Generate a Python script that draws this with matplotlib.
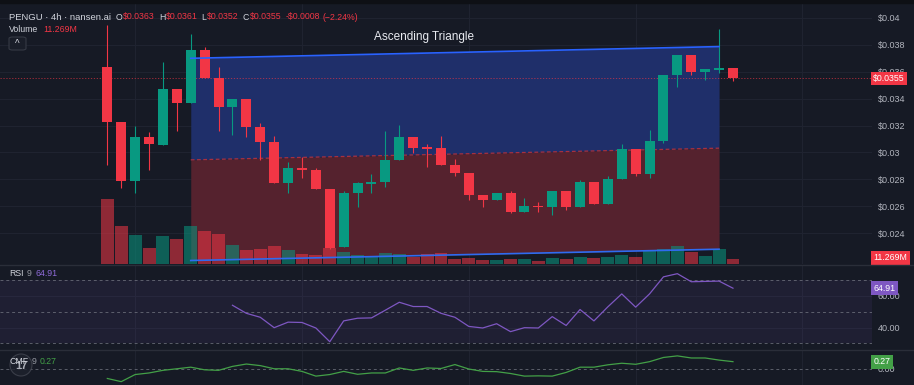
import numpy as np
import matplotlib
matplotlib.use("Agg")
import matplotlib.pyplot as plt
from matplotlib.patches import FancyBboxPatch, Ellipse, Rectangle
from matplotlib.lines import Line2D
from matplotlib.transforms import blended_transform_factory

plt.rcParams["font.family"] = ["Liberation Sans", "DejaVu Sans"]

# 4h candles, PENGU
opens = [0.03633, 0.03225, 0.02791, 0.03118, 0.03059, 0.03472, 0.03371, 0.03764, 0.03552, 0.03341,
         0.03400, 0.03188, 0.03076, 0.02772, 0.02888, 0.02871, 0.02729, 0.02301, 0.02702, 0.02767,
         0.02784, 0.02945, 0.03118, 0.03036, 0.03032, 0.02906, 0.02851, 0.02685, 0.02648, 0.02702,
         0.02561, 0.02605, 0.02594, 0.02715, 0.02594, 0.02779, 0.02620, 0.02806, 0.03029, 0.02843,
         0.03088, 0.03576, 0.03725, 0.03601, 0.03614, 0.03631]
highs = [0.03948, 0.03225, 0.03200, 0.03151, 0.03675, 0.03472, 0.03881, 0.03782, 0.03638, 0.03400,
         0.03400, 0.03218, 0.03126, 0.02932, 0.02969, 0.02883, 0.02729, 0.02712, 0.02784, 0.02841,
         0.03160, 0.03205, 0.03118, 0.03064, 0.03123, 0.02950, 0.02851, 0.02685, 0.02702, 0.02715,
         0.02665, 0.02635, 0.02715, 0.02715, 0.02796, 0.02779, 0.02828, 0.03064, 0.03029, 0.03168,
         0.03576, 0.03725, 0.03725, 0.03619, 0.03916, 0.03631]
lows = [0.02907, 0.02735, 0.02702, 0.02871, 0.03059, 0.03160, 0.03371, 0.03552, 0.03163, 0.03131,
        0.03114, 0.02945, 0.02772, 0.02702, 0.02809, 0.02729, 0.02280, 0.02301, 0.02598, 0.02702,
        0.02742, 0.02945, 0.02995, 0.02895, 0.02906, 0.02828, 0.02648, 0.02598, 0.02648, 0.02553,
        0.02561, 0.02561, 0.02536, 0.02573, 0.02594, 0.02620, 0.02620, 0.02806, 0.02826, 0.02813,
        0.03069, 0.03490, 0.03576, 0.03539, 0.03589, 0.03530]
closes = [0.03225, 0.02791, 0.03118, 0.03062, 0.03472, 0.03371, 0.03764, 0.03552, 0.03341, 0.03400,
          0.03188, 0.03076, 0.02772, 0.02886, 0.02871, 0.02729, 0.02290, 0.02702, 0.02772, 0.02784,
          0.02945, 0.03118, 0.03032, 0.03028, 0.02906, 0.02851, 0.02685, 0.02648, 0.02702, 0.02561,
          0.02605, 0.02594, 0.02715, 0.02594, 0.02779, 0.02620, 0.02806, 0.03029, 0.02843, 0.03088,
          0.03576, 0.03725, 0.03601, 0.03619, 0.03631, 0.03550]
volumes = [156, 92, 70, 38, 68, 59, 92, 78, 72, 46, 34, 36, 43, 34, 25, 21, 39, 29, 22, 16,
           26, 24, 16, 24, 26, 13, 14, 10, 10, 11, 11, 8, 15, 11, 17, 14, 17, 22, 17, 30,
           37, 42, 29, 18, 37, 11.269]

rsi_start = 9
rsi = [54.1, 49.0, 46.5, 39.9, 43.4, 43.2, 39.7, 31.0, 44.2, 45.9, 46.1, 51.0, 56.0, 53.3, 53.3,
       49.0, 46.5, 40.7, 39.7, 42.4, 37.4, 39.9, 39.7, 46.9, 41.3, 51.4, 44.2, 53.1, 61.3, 52.9,
       61.3, 72.1, 74.1, 69.0, 69.2, 69.4, 64.91]
cmf = [-0.37, -0.49, -0.22, -0.16, -0.06, 0.0, 0.06, -0.04, -0.06, 0.09, 0.18, 0.12, 0.0, 0.0,
       -0.10, -0.28, -0.22, -0.10, -0.21, -0.16, -0.16, 0.03, -0.06, 0.03, 0.01, 0.16, -0.01, -0.10,
       -0.11, -0.18, -0.28, -0.27, -0.28, -0.14, 0.06, 0.06, 0.15, 0.21, 0.17, 0.27, 0.43, 0.49,
       0.41, 0.41, 0.33, 0.27]

# ascending triangle drawing
tri_x = [6, 44]
tri_top = [0.03700, 0.03787]
tri_mid = [0.02945, 0.03032]
tri_bot = [0.02197, 0.02281]

price_ticks = [0.024, 0.026, 0.028, 0.030, 0.032, 0.034, 0.036, 0.038, 0.040]
price_labels = ["$0.024", "$0.026", "$0.028", "$0.03", "$0.032", "$0.034", "$0.036", "$0.038", "$0.04"]
grid_x = [2, 14, 26, 38, 50]
last_price = 0.0355

BG = "#161A25"
GRID = "#1F2330"
RED = "#F23645"
GREEN = "#089981"
TXT = "#D1D4DC"
AXTXT = "#B2B5BE"
PURPLE = "#7E57C2"
CMFG = "#43A047"

W, H = 914, 385
XL = (-7.72, 55.0)
YL = (0.02171, 0.04111)


def rect(x0, y0, x1, y1):
    return [x0 / W, 1 - y1 / H, (x1 - x0) / W, (y1 - y0) / H]


def base(a, ylim):
    a.set_facecolor(BG)
    a.set_xlim(XL)
    a.set_ylim(ylim)
    for s in a.spines.values():
        s.set_visible(False)
    a.yaxis.tick_right()
    a.set_xticks(grid_x)
    a.tick_params(axis="x", length=0, labelbottom=False)
    a.tick_params(axis="y", length=0, pad=4.3, labelsize=6.5, labelcolor=AXTXT)
    a.grid(True, color=GRID, lw=0.8)
    a.set_axisbelow(True)


def tag(a, y, s, fc):
    tr = blended_transform_factory(a.transAxes, a.transData)
    a.text(1.0015, y, s, transform=tr, ha="left", va="center", fontsize=6.3, color="white",
           bbox=dict(boxstyle="square,pad=0.28", fc=fc, ec="none"), clip_on=False, zorder=20)


fig = plt.figure(figsize=(9.14, 3.85), dpi=100, facecolor=BG)
fig.patches.append(Rectangle((0, 1 - 3 / H), 1, 3 / H, transform=fig.transFigure,
                             color="#0E1015", zorder=0))

x = np.arange(len(opens))
o = np.array(opens); c = np.array(closes)
up = c >= o
col = np.where(up, GREEN, RED)

# back layer: grid, triangle fills, price line
ax = fig.add_axes(rect(0, 3, 872, 264))
base(ax, YL)
ax.set_yticks(price_ticks)
ax.set_yticklabels(price_labels)
ax.fill_between(tri_x, tri_mid, tri_top, color="#1F2F6A", lw=0, zorder=1)
ax.fill_between(tri_x, tri_bot, tri_mid, color="#55222E", lw=0, zorder=1)
ax.plot(tri_x, tri_mid, color="#A8303F", lw=0.9, ls=(0, (3, 2)), zorder=2)
ax.axhline(last_price, color=RED, lw=0.6, ls=(0, (1.5, 2)), alpha=0.7, zorder=2)

# volume layer
axv = fig.add_axes(rect(0, 3, 872, 264))
axv.axis("off")
axv.set_xlim(XL)
axv.set_ylim(0, 624)
axv.bar(x, volumes, width=0.93, color=col, alpha=0.55, lw=0)
tag(axv, volumes[-1] + 4, "11.269M", RED)

# candles layer
axt = fig.add_axes(rect(0, 3, 872, 264))
axt.axis("off")
axt.set_xlim(XL)
axt.set_ylim(YL)
axt.vlines(x, lows, highs, colors=col, lw=0.8, zorder=3)
body_h = np.maximum(np.abs(c - o), 0.00009)
axt.bar(x, body_h, bottom=np.minimum(o, c), width=0.72, color=col, lw=0, zorder=4)
axt.plot(tri_x, tri_top, color="#2962FF", lw=1.2, zorder=5)
axt.plot(tri_x, tri_bot, color="#2F6BF0", lw=1.2, zorder=5)
axt.text(22.8, 0.03861, "Ascending Triangle", color="#E8EAF0", fontsize=8.5,
         ha="center", va="center", zorder=6)
tag(axt, last_price, "$0.0355", RED)

# RSI pane
ar = fig.add_axes(rect(0, 265, 872, 349))
base(ar, (26.4, 79.6))
ar.set_yticks([40, 60])
ar.set_yticklabels(["40.00", "60.00"])
ar.fill_between(XL, 30, 70, color=PURPLE, alpha=0.09, lw=0)
for lv in (70, 50, 30):
    ar.axhline(lv, color="#787B86", lw=0.7, ls=(0, (3, 3)), alpha=0.7)
ar.plot(np.arange(rsi_start, rsi_start + len(rsi)), rsi, color=PURPLE, lw=0.9)
tag(ar, rsi[-1], "64.91", PURPLE)

# CMF pane
ac = fig.add_axes(rect(0, 350, 872, 385))
base(ac, (-0.618, 0.714))
ac.set_yticks([0])
ac.set_yticklabels(["0.00"])
ac.grid(False, axis="y")
ac.axhline(0, color="#787B86", lw=0.7, ls=(0, (3, 3)), alpha=0.7)
ac.plot(x, cmf, color=CMFG, lw=0.9)
tag(ac, cmf[-1], "0.27", CMFG)

for yy in (264.5, 349.5):
    fig.add_artist(Line2D([0, 1], [1 - yy / H] * 2, color="#2A2E39", lw=1, transform=fig.transFigure))

# header texts
fig.canvas.draw()
rend = fig.canvas.get_renderer()


def row(items, x0, y0):
    xx = x0
    for s, cc, gap, size in items:
        t = fig.text(xx / W, 1 - y0 / H, s, color=cc, fontsize=size, ha="left", va="center")
        xx += t.get_window_extent(renderer=rend).width + gap


row([("PENGU · 4h · nansen.ai", TXT, 5, 6.8),
     ("O", TXT, 0.5, 6.3), ("$0.0363", RED, 4, 6.3), ("H", TXT, 0.5, 6.3), ("$0.0361", RED, 4, 6.3),
     ("L", TXT, 0.5, 6.3), ("$0.0352", RED, 4, 6.3), ("C", TXT, 0.5, 6.3), ("$0.0355", RED, 4, 6.3),
     ("-$0.0008", RED, 3, 6.3), ("(\u22122.24%)", RED, 0, 6.3)], 9, 17)
row([("Volume", TXT, 5, 6.3), ("11.269M", RED, 0, 6.3)], 9, 29)
row([("RSI", TXT, 3, 6.3), ("9", "#9598A1", 4, 6.3), ("64.91", "#8E6BD8", 0, 6.3)], 9, 273)
row([("CMF", TXT, 3, 6.3), ("9", "#9598A1", 4, 6.3), ("0.27", CMFG, 0, 6.3)], 9, 362)

# collapse button and logo
fig.patches.append(FancyBboxPatch((9 / W, 1 - 50 / H), 17 / W, 13 / H,
                                  boxstyle="round,pad=0,rounding_size=0.004",
                                  transform=fig.transFigure, fc="#1A1E29", ec="#363A45", lw=0.8))
fig.text(17.5 / W, 1 - 44 / H, "^", color=TXT, fontsize=7, ha="center", va="center")
fig.patches.append(Ellipse((21 / W, 1 - 365 / H), 22 / W, 22 / H, transform=fig.transFigure,
                           fc="#1E222D", ec="#434651", lw=0.8, alpha=0.8))
fig.text(21 / W, 1 - 366 / H, "17", color="#D1D4DC", fontsize=8, fontweight="bold",
         ha="center", va="center", alpha=0.8)

fig.savefig("out.png", dpi=100, facecolor=BG)
